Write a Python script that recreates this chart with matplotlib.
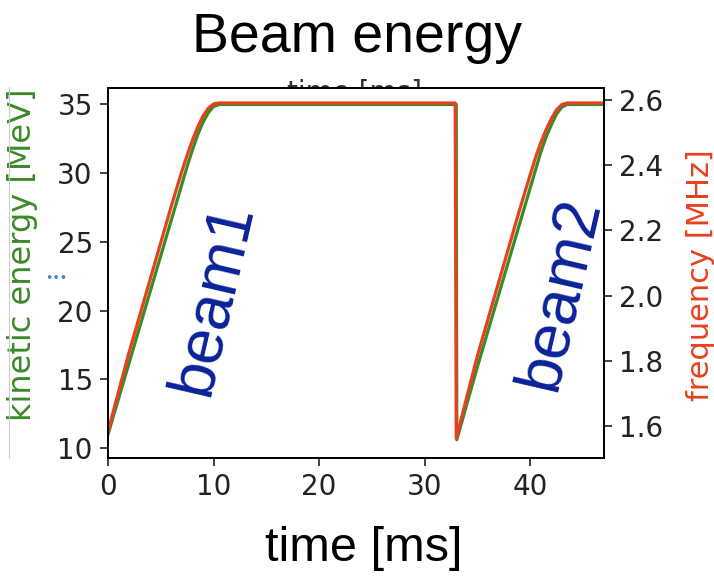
import numpy as np
import matplotlib
matplotlib.use("Agg")
import matplotlib.pyplot as plt
from matplotlib.lines import Line2D

# time [ms] and kinetic energy [MeV] (green)
t_ke = [0, 2, 4, 6, 7, 7.5, 8, 8.5, 9, 9.5, 10, 10.5,
        33.0, 33.05,
        35, 37, 39, 40, 40.5, 41, 41.5, 42, 42.5, 43, 43.5, 47]
ke = [11.0, 16.2, 21.4, 26.6, 29.2, 30.5, 31.7, 32.8, 33.7, 34.4, 34.85, 35.0,
      35.0, 10.6,
      15.9, 21.1, 26.3, 28.9, 30.2, 31.5, 32.6, 33.5, 34.3, 34.8, 35.0, 35.0]

# time [ms] and rf frequency [MHz] (red)
t_f = [0, 2, 4, 6, 7, 7.5, 8, 8.5, 9, 9.5, 10, 10.5,
       32.9, 33.0,
       35, 37, 39, 40, 40.5, 41, 41.5, 42, 42.5, 43, 43.5, 47]
freq = [1.585, 1.827, 2.051, 2.275, 2.382, 2.431, 2.477, 2.517, 2.551, 2.575, 2.588, 2.591,
        2.591, 1.563,
        1.815, 2.039, 2.263, 2.370, 2.422, 2.468, 2.508, 2.542, 2.570, 2.586, 2.591, 2.591]

xticks = [0, 10, 20, 30, 40]
yticks_ke = [10, 15, 20, 25, 30, 35]
yticks_f = [1.6, 1.8, 2.0, 2.2, 2.4, 2.6]

green = "#3a8a26"
red = "#e8401e"
navy = "#0a2299"

fig = plt.figure(figsize=(7.14, 5.8), dpi=100)
ax = fig.add_axes([0.1513, 0.2103, 0.6946, 0.6380])
ax2 = ax.twinx()

ax.plot(t_ke, ke, color=green, lw=2.3, solid_joinstyle="round")
ax2.plot(t_f, freq, color=red, lw=2.3, solid_joinstyle="round")

ax.set_xlim(0, 47)
ax.set_ylim(9.27, 36.2)
ax2.set_ylim(1.502, 2.637)

ax.set_xticks(xticks)
ax.set_yticks(yticks_ke)
ax2.set_yticks(yticks_f)
ax2.set_yticklabels([f"{v:.1f}" for v in yticks_f])

for a in (ax, ax2):
    a.tick_params(labelsize=20, length=6, width=1.2, colors="#222222", pad=5)
    for s in a.spines.values():
        s.set_linewidth(1.3)

ax.set_ylabel("kinetic energy [MeV]", color=green, fontsize=23)
ax.yaxis.set_label_coords(-0.142, 0.55)
ax2.set_ylabel("frequency [MHz]", color=red, fontsize=22)
ax2.yaxis.set_label_coords(1.165, 0.495)

# beam annotations
ax.text(9.95, 20.9, "beam1", color=navy, fontsize=46, rotation=77,
        family="Liberation Sans", ha="center", va="center")
ax.text(42.8, 21.3, "beam2", color=navy, fontsize=46, rotation=77,
        family="Liberation Sans", ha="center", va="center")

fig.text(0.5, 0.935, "Beam energy", fontsize=40, family="Liberation Sans",
         ha="center", va="center")
fig.text(0.51, 0.055, "time [ms]", fontsize=35, family="Liberation Sans",
         ha="center", va="center")

# half-hidden label behind the top of the frame
fig.text(0.497, 0.863, "time [ms]", fontsize=20, color="#333333",
         ha="center", va="top", zorder=-1)

# little blue dots and the thin crop line at the left
fig.text(0.078, 0.52, "\u2022\u2022\u2022", fontsize=9, color="#4a80d4",
         ha="center", va="center")
fig.add_artist(Line2D([0.013, 0.013], [0.21, 0.85], color="#cccccc", lw=0.8,
                      transform=fig.transFigure))

fig.savefig("out.png", dpi=100)
